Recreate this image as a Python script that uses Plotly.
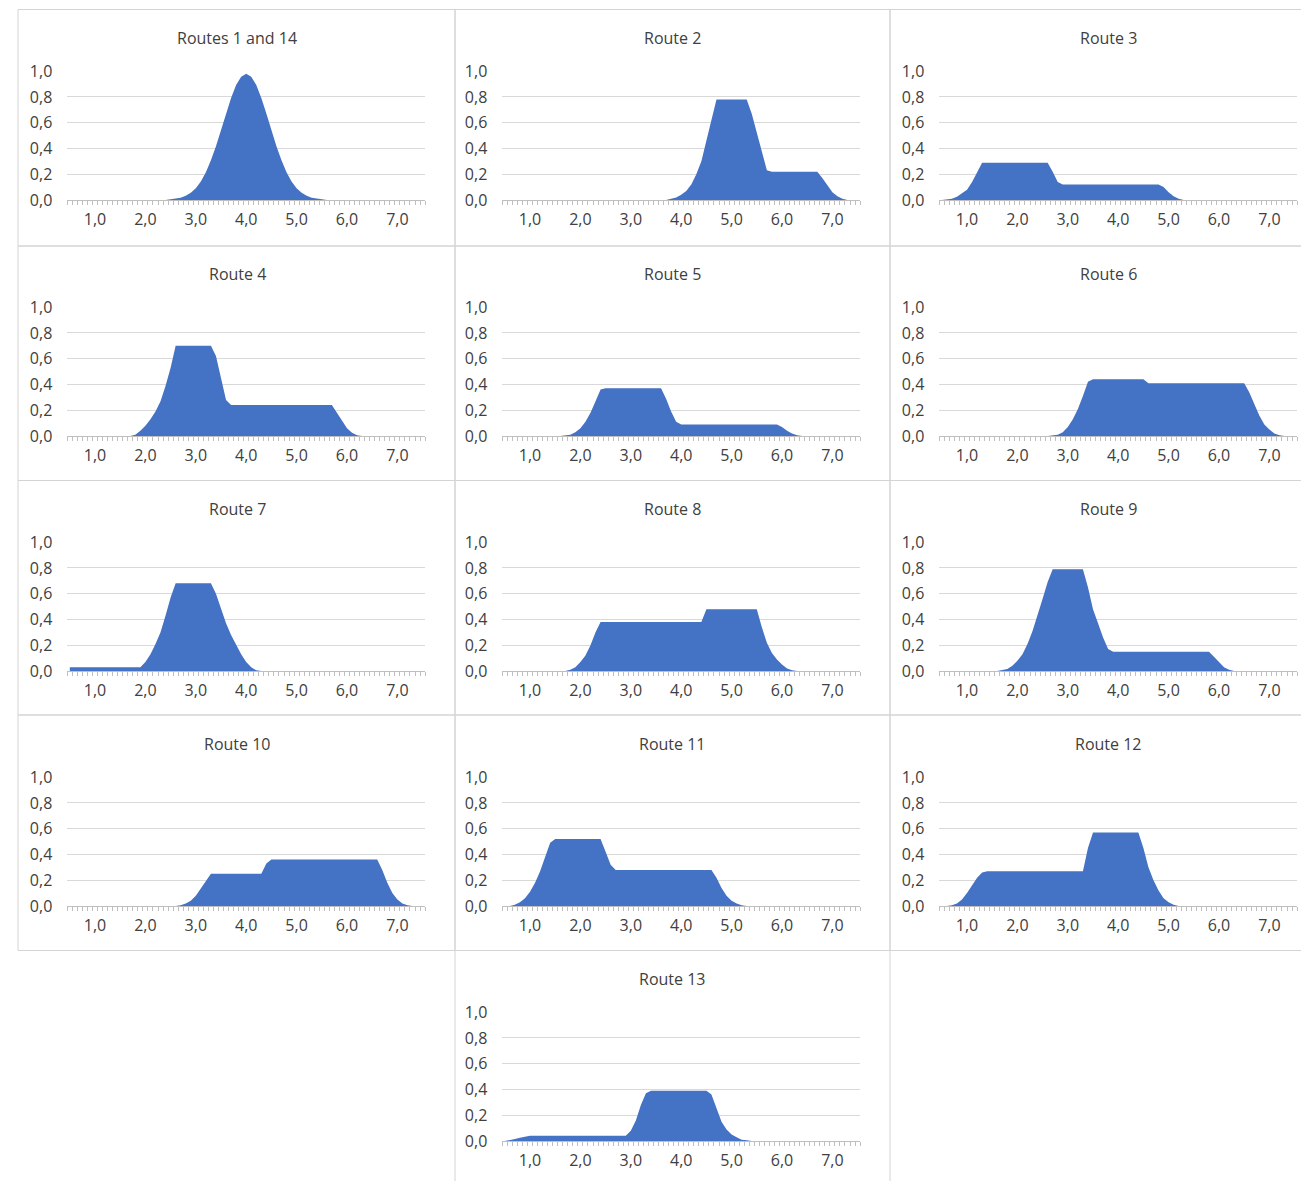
import plotly.graph_objects as go

# ---------------- data ----------------
CATEGORIES = [0.5, 0.6, 0.7, 0.8, 0.9, 1.0, 1.1, 1.2, 1.3, 1.4,
              1.5, 1.6, 1.7, 1.8, 1.9, 2.0, 2.1, 2.2, 2.3, 2.4,
              2.5, 2.6, 2.7, 2.8, 2.9, 3.0, 3.1, 3.2, 3.3, 3.4,
              3.5, 3.6, 3.7, 3.8, 3.9, 4.0, 4.1, 4.2, 4.3, 4.4,
              4.5, 4.6, 4.7, 4.8, 4.9, 5.0, 5.1, 5.2, 5.3, 5.4,
              5.5, 5.6, 5.7, 5.8, 5.9, 6.0, 6.1, 6.2, 6.3, 6.4,
              6.5, 6.6, 6.7, 6.8, 6.9, 7.0, 7.1, 7.2, 7.3, 7.4,
              7.5]

TITLES = ["Routes 1 and 14", "Route 2", "Route 3", "Route 4", "Route 5",
          "Route 6", "Route 7", "Route 8", "Route 9", "Route 10",
          "Route 11", "Route 12", "Route 13"]

ROUTE_1_14 = [0, 0, 0, 0, 0, 0, 0, 0, 0, 0,
              0, 0, 0, 0, 0, 0, 0, 0, 0, 0,
              0.005, 0.01, 0.018, 0.033, 0.056, 0.092, 0.144, 0.216, 0.308, 0.418,
              0.543, 0.672, 0.792, 0.892, 0.957, 0.98, 0.957, 0.892, 0.792, 0.672,
              0.543, 0.418, 0.308, 0.216, 0.144, 0.092, 0.056, 0.033, 0.018, 0.01,
              0.005, 0, 0, 0, 0, 0, 0, 0, 0, 0,
              0, 0, 0, 0, 0, 0, 0, 0, 0, 0,
              0]

ROUTE_2 = [0, 0, 0, 0, 0, 0, 0, 0, 0, 0,
           0, 0, 0, 0, 0, 0, 0, 0, 0, 0,
           0, 0, 0, 0, 0, 0, 0, 0, 0, 0,
           0, 0, 0, 0.01, 0.02, 0.04, 0.07, 0.12, 0.2, 0.3,
           0.45, 0.62, 0.78, 0.78, 0.78, 0.78, 0.78, 0.78, 0.78, 0.67,
           0.52, 0.37, 0.23, 0.22, 0.22, 0.22, 0.22, 0.22, 0.22, 0.22,
           0.22, 0.22, 0.22, 0.17, 0.11, 0.06, 0.03, 0.01, 0, 0,
           0]

ROUTE_3 = [0, 0.005, 0.01, 0.025, 0.05, 0.08, 0.14, 0.22, 0.29, 0.29,
           0.29, 0.29, 0.29, 0.29, 0.29, 0.29, 0.29, 0.29, 0.29, 0.29,
           0.29, 0.29, 0.22, 0.14, 0.12, 0.12, 0.12, 0.12, 0.12, 0.12,
           0.12, 0.12, 0.12, 0.12, 0.12, 0.12, 0.12, 0.12, 0.12, 0.12,
           0.12, 0.12, 0.12, 0.12, 0.1, 0.06, 0.03, 0.01, 0, 0,
           0, 0, 0, 0, 0, 0, 0, 0, 0, 0,
           0, 0, 0, 0, 0, 0, 0, 0, 0, 0,
           0]

ROUTE_4 = [0, 0, 0, 0, 0, 0, 0, 0, 0, 0,
           0, 0, 0, 0.01, 0.04, 0.08, 0.13, 0.19, 0.27, 0.39,
           0.53, 0.70, 0.70, 0.70, 0.70, 0.70, 0.70, 0.70, 0.70, 0.62,
           0.45, 0.28, 0.24, 0.24, 0.24, 0.24, 0.24, 0.24, 0.24, 0.24,
           0.24, 0.24, 0.24, 0.24, 0.24, 0.24, 0.24, 0.24, 0.24, 0.24,
           0.24, 0.24, 0.24, 0.18, 0.12, 0.06, 0.025, 0.005, 0, 0,
           0, 0, 0, 0, 0, 0, 0, 0, 0, 0,
           0]

ROUTE_5 = [0, 0, 0, 0, 0, 0, 0, 0, 0, 0,
           0, 0, 0.005, 0.01, 0.03, 0.06, 0.11, 0.18, 0.27, 0.36,
           0.37, 0.37, 0.37, 0.37, 0.37, 0.37, 0.37, 0.37, 0.37, 0.37,
           0.37, 0.37, 0.29, 0.19, 0.11, 0.09, 0.09, 0.09, 0.09, 0.09,
           0.09, 0.09, 0.09, 0.09, 0.09, 0.09, 0.09, 0.09, 0.09, 0.09,
           0.09, 0.09, 0.09, 0.09, 0.09, 0.07, 0.04, 0.02, 0.005, 0,
           0, 0, 0, 0, 0, 0, 0, 0, 0, 0,
           0]

ROUTE_6 = [0, 0, 0, 0, 0, 0, 0, 0, 0, 0,
           0, 0, 0, 0, 0, 0, 0, 0, 0, 0,
           0, 0, 0.005, 0.01, 0.03, 0.07, 0.13, 0.21, 0.31, 0.42,
           0.44, 0.44, 0.44, 0.44, 0.44, 0.44, 0.44, 0.44, 0.44, 0.44,
           0.44, 0.41, 0.41, 0.41, 0.41, 0.41, 0.41, 0.41, 0.41, 0.41,
           0.41, 0.41, 0.41, 0.41, 0.41, 0.41, 0.41, 0.41, 0.41, 0.41,
           0.41, 0.34, 0.25, 0.16, 0.09, 0.05, 0.02, 0.005, 0, 0,
           0]

ROUTE_7 = [0.03, 0.03, 0.03, 0.03, 0.03, 0.03, 0.03, 0.03, 0.03, 0.03,
           0.03, 0.03, 0.03, 0.03, 0.03, 0.07, 0.13, 0.21, 0.30, 0.43,
           0.57, 0.68, 0.68, 0.68, 0.68, 0.68, 0.68, 0.68, 0.68, 0.60,
           0.48, 0.37, 0.28, 0.2, 0.13, 0.07, 0.03, 0.005, 0, 0,
           0, 0, 0, 0, 0, 0, 0, 0, 0, 0,
           0, 0, 0, 0, 0, 0, 0, 0, 0, 0,
           0, 0, 0, 0, 0, 0, 0, 0, 0, 0,
           0]

ROUTE_8 = [0, 0, 0, 0, 0, 0, 0, 0, 0, 0,
           0, 0, 0, 0.01, 0.03, 0.07, 0.12, 0.2, 0.3, 0.38,
           0.38, 0.38, 0.38, 0.38, 0.38, 0.38, 0.38, 0.38, 0.38, 0.38,
           0.38, 0.38, 0.38, 0.38, 0.38, 0.38, 0.38, 0.38, 0.38, 0.38,
           0.48, 0.48, 0.48, 0.48, 0.48, 0.48, 0.48, 0.48, 0.48, 0.48,
           0.48, 0.34, 0.22, 0.14, 0.09, 0.05, 0.02, 0.005, 0, 0,
           0, 0, 0, 0, 0, 0, 0, 0, 0, 0,
           0]

ROUTE_9 = [0, 0, 0, 0, 0, 0, 0, 0, 0, 0,
           0, 0, 0.005, 0.015, 0.04, 0.08, 0.13, 0.21, 0.31, 0.43,
           0.56, 0.69, 0.79, 0.79, 0.79, 0.79, 0.79, 0.79, 0.79, 0.65,
           0.48, 0.37, 0.26, 0.17, 0.15, 0.15, 0.15, 0.15, 0.15, 0.15,
           0.15, 0.15, 0.15, 0.15, 0.15, 0.15, 0.15, 0.15, 0.15, 0.15,
           0.15, 0.15, 0.15, 0.15, 0.11, 0.07, 0.03, 0.01, 0, 0,
           0, 0, 0, 0, 0, 0, 0, 0, 0, 0,
           0]

ROUTE_10 = [0, 0, 0, 0, 0, 0, 0, 0, 0, 0,
            0, 0, 0, 0, 0, 0, 0, 0, 0, 0,
            0, 0, 0.005, 0.02, 0.04, 0.08, 0.14, 0.2, 0.25, 0.25,
            0.25, 0.25, 0.25, 0.25, 0.25, 0.25, 0.25, 0.25, 0.25, 0.33,
            0.36, 0.36, 0.36, 0.36, 0.36, 0.36, 0.36, 0.36, 0.36, 0.36,
            0.36, 0.36, 0.36, 0.36, 0.36, 0.36, 0.36, 0.36, 0.36, 0.36,
            0.36, 0.36, 0.28, 0.18, 0.1, 0.05, 0.02, 0.005, 0, 0,
            0]

ROUTE_11 = [0, 0, 0.01, 0.03, 0.06, 0.11, 0.18, 0.27, 0.38, 0.49,
            0.52, 0.52, 0.52, 0.52, 0.52, 0.52, 0.52, 0.52, 0.52, 0.52,
            0.42, 0.32, 0.28, 0.28, 0.28, 0.28, 0.28, 0.28, 0.28, 0.28,
            0.28, 0.28, 0.28, 0.28, 0.28, 0.28, 0.28, 0.28, 0.28, 0.28,
            0.28, 0.28, 0.22, 0.14, 0.08, 0.04, 0.02, 0.005, 0, 0,
            0, 0, 0, 0, 0, 0, 0, 0, 0, 0,
            0, 0, 0, 0, 0, 0, 0, 0, 0, 0,
            0]

ROUTE_12 = [0, 0, 0.005, 0.02, 0.05, 0.1, 0.16, 0.22, 0.26, 0.27,
            0.27, 0.27, 0.27, 0.27, 0.27, 0.27, 0.27, 0.27, 0.27, 0.27,
            0.27, 0.27, 0.27, 0.27, 0.27, 0.27, 0.27, 0.27, 0.27, 0.45,
            0.57, 0.57, 0.57, 0.57, 0.57, 0.57, 0.57, 0.57, 0.57, 0.57,
            0.45, 0.3, 0.2, 0.12, 0.06, 0.03, 0.01, 0, 0, 0,
            0, 0, 0, 0, 0, 0, 0, 0, 0, 0,
            0, 0, 0, 0, 0, 0, 0, 0, 0, 0,
            0]

ROUTE_13 = [0, 0.005, 0.015, 0.025, 0.035, 0.04, 0.04, 0.04, 0.04, 0.04,
            0.04, 0.04, 0.04, 0.04, 0.04, 0.04, 0.04, 0.04, 0.04, 0.04,
            0.04, 0.04, 0.04, 0.04, 0.04, 0.08, 0.16, 0.28, 0.37, 0.39,
            0.39, 0.39, 0.39, 0.39, 0.39, 0.39, 0.39, 0.39, 0.39, 0.39,
            0.39, 0.36, 0.25, 0.15, 0.09, 0.05, 0.03, 0.01, 0.005, 0,
            0, 0, 0, 0, 0, 0, 0, 0, 0, 0,
            0, 0, 0, 0, 0, 0, 0, 0, 0, 0,
            0]

SERIES = [ROUTE_1_14, ROUTE_2, ROUTE_3, ROUTE_4, ROUTE_5, ROUTE_6, ROUTE_7,
          ROUTE_8, ROUTE_9, ROUTE_10, ROUTE_11, ROUTE_12, ROUTE_13]

# grid cell (row, col) of each panel
CELLS = [(0, 0), (0, 1), (0, 2), (1, 0), (1, 1), (1, 2), (2, 0),
         (2, 1), (2, 2), (3, 0), (3, 1), (3, 2), (4, 1)]

# ---------------- layout geometry (page pixels) ----------------
PAGE_W, PAGE_H = 1309, 1181
OFF = 8                      # default page margin around the plot div
W, H = PAGE_W - OFF, PAGE_H - OFF
COL_LEFT = [67.3, 502.3, 939.3]
PLOT_W = 357.8
ROW_TOP = [71, 307, 542, 777, 1012]
PLOT_H = 129
PANEL_X = [18, 455, 890, 1330]
PANEL_Y = [9.5, 246, 480.5, 715, 950.5, 1200]
TITLE_X = [237, 672, 1108]
TITLE_DY = -33

BLUE = "#4472C4"
GRID = "#d9d9d9"
BORDER = "#d4d4d4"
TXT = "#404040"
FONT = "Open Sans"


def px(x):
    return (x - OFF) / W


def py(y):
    return 1 - (y - OFF) / H


def visible(vals):
    """Hide runs of zeros (Excel draws nothing there); keep the zero that
    closes each slope so the area still meets the baseline."""
    out = []
    n = len(vals)
    for k, v in enumerate(vals):
        left = vals[k - 1] if k > 0 else 0
        right = vals[k + 1] if k < n - 1 else 0
        out.append(None if (v == 0 and left == 0 and right == 0) else v)
    return out


fig = go.Figure()
shapes = []
annotations = []
layout = {}

for i, (vals, title, (r, c)) in enumerate(zip(SERIES, TITLES, CELLS)):
    n = i + 1
    xa = "x" if n == 1 else f"x{n}"
    ya = "y" if n == 1 else f"y{n}"
    xk = "xaxis" if n == 1 else f"xaxis{n}"
    yk = "yaxis" if n == 1 else f"yaxis{n}"

    fig.add_trace(go.Scatter(
        x=CATEGORIES, y=visible(vals), mode="lines",
        line=dict(width=0, color=BLUE),
        fill="tozeroy", fillcolor=BLUE, connectgaps=False,
        xaxis=xa, yaxis=ya, showlegend=False, hoverinfo="skip"))

    x0, x1 = COL_LEFT[c], COL_LEFT[c] + PLOT_W
    y0, y1 = ROW_TOP[r], ROW_TOP[r] + PLOT_H

    layout[xk] = dict(
        domain=[px(x0), px(x1)], anchor=ya, range=[0.45, 7.55],
        automargin=False,
        tickmode="linear", tick0=0, dtick=1, tickformat=".1f",
        ticks="", showgrid=False, zeroline=False,
        showline=True, linecolor="#bfbfbf", linewidth=1,
        ticklabelstandoff=5,
        tickfont=dict(family=FONT, size=16, color=TXT),
        minor=dict(tickmode="linear", tick0=0.45, dtick=0.1,
                   ticks="outside", ticklen=4, tickcolor="#bfbfbf",
                   tickwidth=1, showgrid=False),
        fixedrange=True)
    layout[yk] = dict(
        domain=[py(y1), py(y0)], anchor=xa, range=[0, 1.001],
        automargin=False,
        tickmode="linear", tick0=0, dtick=0.2, tickformat=".1f",
        ticks="", showgrid=True, gridcolor=GRID, gridwidth=1,
        zeroline=False, showline=False,
        ticklabelstandoff=14,
        tickfont=dict(family=FONT, size=16, color=TXT),
        fixedrange=True)

    annotations.append(dict(
        text=title, x=px(TITLE_X[c]), y=py(y0 + TITLE_DY),
        xref="paper", yref="paper", xanchor="center", yanchor="middle",
        showarrow=False, font=dict(family=FONT, size=16, color=TXT)))

    shapes.append(dict(
        type="rect", xref="paper", yref="paper",
        x0=px(PANEL_X[c]), x1=px(PANEL_X[c + 1]),
        y0=py(PANEL_Y[r + 1]), y1=py(PANEL_Y[r]),
        line=dict(color=BORDER, width=1), fillcolor="rgba(0,0,0,0)",
        layer="below"))

fig.update_layout(
    width=W, height=H, margin=dict(l=0, r=0, t=0, b=0, autoexpand=False),
    paper_bgcolor="white", plot_bgcolor="white",
    separators=",.",
    shapes=shapes, annotations=annotations, showlegend=False,
    **layout)

fig.write_html("out.html")
